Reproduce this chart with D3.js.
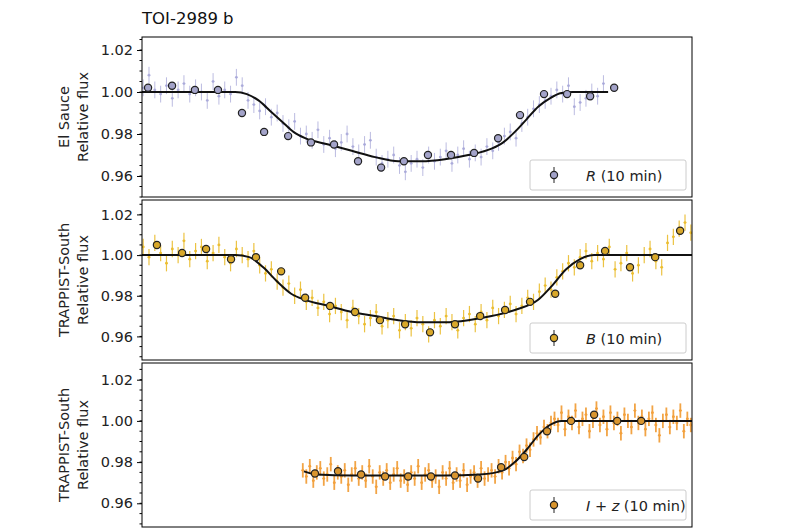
<!DOCTYPE html><html><head><meta charset="utf-8">
<script src="https://cdn.jsdelivr.net/npm/d3@7"></script>
<style>body{margin:0;background:#fff}text{font-family:"DejaVu Sans",sans-serif}</style></head><body>
<svg id="c" width="800" height="530"></svg>
<script>
const p1Raw=[1.002,1.008,1.001,0.999,1.003,0.997,1.001,1.004,0.999,1.002,1.000,0.996,1.005,0.998,1.001,0.999,1.007,
1.003,0.996,0.994,0.991,0.993,0.988,0.990,0.985,0.983,0.986,0.979,0.980,
0.977,0.982,0.975,0.978,0.973,0.976,0.980,0.974,0.971,0.975,0.977,0.969,0.966,0.968,0.970,0.965,
0.962,0.966,0.968,0.964,0.970,0.967,0.969,0.972,0.966,0.970,0.973,0.968,0.971,0.969,0.974,0.972,
0.976,0.979,0.981,0.978,0.985,0.988,0.992,0.994,0.996,0.998,1.001,0.999,1.003,0.993,0.995,0.997,1.000,0.998,1.004];
const p1BinT=[2.6,12.9,22.7,32.6,42.9,52.4,62.7,72.5,82.4,92.7,102.6,112.4,122.7,132.6,142.5,152.8,162.2,172.5,182.4,192.3,202.6];
const p1Bin=[1.002,1.003,1.001,1.001,0.990,0.981,0.979,0.976,0.975,0.967,0.964,0.967,0.970,0.970,0.971,0.978,0.989,0.999,0.999,0.998,1.002];
const p1ModT=[0,40,45,50,55,60,65,70,80,90,100,110,120,130,140,150,155,160,165,170,175,180,185,200];
const p1Mod=[1,1,0.999,0.996,0.991,0.986,0.981,0.978,0.975,0.972,0.969,0.967,0.967,0.968,0.970,0.973,0.976,0.981,0.987,0.993,0.997,0.9995,1,1];

const p2Raw=[1.004,0.999,1.006,1.001,0.996,1.003,1.000,1.007,0.998,1.002,1.004,0.997,1.001,1.005,0.999,0.996,1.003,1.000,0.998,
1.002,0.995,0.991,0.993,0.987,0.984,0.986,0.980,0.983,0.977,
0.979,0.974,0.977,0.971,0.975,0.972,0.968,0.974,0.970,0.966,0.969,0.972,0.965,0.968,0.970,0.963,
0.967,0.964,0.969,0.966,0.961,0.968,0.965,0.970,0.967,0.963,0.969,0.971,0.966,0.972,0.968,0.974,0.970,0.973,0.976,0.971,
0.975,0.979,0.977,0.982,0.985,0.983,0.989,0.992,0.996,0.994,0.999,1.002,0.997,1.001,
0.998,1.004,0.993,0.996,1.001,0.991,0.995,1.000,1.003,0.997,0.994,1.006,1.009,1.013,1.016,1.011];
const p2BinT=[6.4,17.2,27.5,38.2,48.9,59.7,70.0,80.7,91.4,102.1,112.9,123.6,134.3,145.1,155.8,166.5,177.3,188.0,198.7,209.4,220.2,230.9];
const p2Bin=[1.005,1.001,1.003,0.998,0.999,0.992,0.979,0.975,0.972,0.968,0.966,0.962,0.966,0.970,0.973,0.977,0.981,0.995,1.002,0.994,0.999,1.012];
const p2ModT=[0,40,46,52,58,64,70,80,90,100,110,120,130,140,150,160,170,176,182,188,194,236];
const p2Mod=[1,1,0.999,0.994,0.987,0.981,0.978,0.975,0.972,0.970,0.968,0.967,0.967,0.968,0.970,0.973,0.978,0.985,0.993,0.998,1,1];

const p3Raw=[0.976,0.973,0.978,0.971,0.975,0.977,0.972,0.974,0.979,0.970,0.975,0.973,0.976,0.969,0.974,0.977,0.972,0.975,0.971,0.978,0.973,0.968,0.975,0.972,0.976,0.970,0.974,0.977,0.971,0.973,0.969,0.975,0.972,0.978,0.970,0.974,0.976,0.971,0.973,0.968,0.975,0.972,0.977,0.970,0.974,0.971,0.976,0.969,0.973,0.975,0.971,0.977,0.972,0.974,0.976,
0.973,0.978,0.975,0.980,0.977,0.982,0.979,0.985,0.983,0.988,0.986,0.991,0.994,0.992,0.997,0.995,0.999,
1.001,0.998,1.004,0.996,1.002,0.999,1.005,0.997,1.001,1.003,0.995,1.000,1.006,0.998,1.002,0.996,1.004,0.999,1.001,0.994,1.003,1.000,0.997,1.005,0.999,1.002,0.996,1.001,1.004,0.998,0.993,1.000,1.003,0.997,1.002,0.999,1.005,0.995,1.001,0.998];
const p3BinT=[74.2,84.1,94.0,104.3,114.2,124.0,134.3,144.2,154.1,164.0,173.8,184.1,194.0,203.9,214.2];
const p3Bin=[0.9745,0.9756,0.974,0.973,0.973,0.973,0.9735,0.972,0.9775,0.9825,0.995,1.000,1.003,1.000,1.000];
const p3ModT=[69.5,75,90,110,130,145,155,160,165,170,175,180,236];
const p3Mod=[0.9755,0.974,0.9735,0.9735,0.9735,0.974,0.976,0.980,0.986,0.993,0.998,1.0,1.0];

const yTicks=[0.96,0.98,1.00,1.02];
const svg=d3.select("#c");
const x=d3.scaleLinear().domain([0,236]).range([142,692]);
const panels=[
 {top:37,bot:197,dom:[0.95,1.0262],raw:p1Raw,rawT:p1Raw.map((d,i)=>0.5+2.5*i),bin:p1Bin,binT:p1BinT,mod:p1Mod,modT:p1ModT,
  rc:"#a6a6d8",bc:"#a3a3c9",lab:["El Sauce","Relative flux"],leg:["R"," (10 min)"],err:0.004,sw:1,op:0.75},
 {top:200,bot:360,dom:[0.9484,1.0271],raw:p2Raw,rawT:p2Raw.map((d,i)=>0.5+2.5*i),bin:p2Bin,binT:p2BinT,mod:p2Mod,modT:p2ModT,
  rc:"#ebbd2e",bc:"#d9a82a",lab:["TRAPPIST-South","Relative flux"],leg:["B"," (10 min)"],err:0.004,sw:1.2,op:0.9},
 {top:363,bot:527,dom:[0.9485,1.0281],raw:p3Raw,rawT:p3Raw.map((d,i)=>69+1.5*i),bin:p3Bin,binT:p3BinT,mod:p3Mod,modT:p3ModT,
  rc:"#f2a03c",bc:"#d9952e",lab:["TRAPPIST-South","Relative flux"],leg:["I + z"," (10 min)"],err:0.0035,sw:1.8,op:0.95}
];
panels.forEach((p,k)=>{
 const y=d3.scaleLinear().domain(p.dom).range([p.bot,p.top]);
 const g=svg.append("g");
 const clipId="cl"+k;
 svg.append("clipPath").attr("id",clipId).append("rect").attr("x",142).attr("y",p.top).attr("width",550).attr("height",p.bot-p.top);
 const pg=g.append("g").attr("clip-path",`url(#${clipId})`);
 p.raw.forEach((v,i)=>{const t=p.rawT[i];
  pg.append("line").attr("x1",x(t)).attr("x2",x(t)).attr("y1",y(v-p.err)).attr("y2",y(v+p.err)).attr("stroke",p.rc).attr("stroke-width",p.sw).attr("opacity",p.op);
  pg.append("line").attr("x1",x(t)-1.3).attr("x2",x(t)+1.3).attr("y1",y(v)).attr("y2",y(v)).attr("stroke",p.rc).attr("stroke-width",1).attr("opacity",p.op);
  pg.append("circle").attr("cx",x(t)).attr("cy",y(v)).attr("r",1.4).attr("fill",p.rc).attr("opacity",p.op);});
 pg.append("path").datum(p.mod.map((v,i)=>[p.modT[i],v])).attr("d",d3.line().x(d=>x(d[0])).y(d=>y(d[1])).curve(d3.curveMonotoneX))
  .attr("fill","none").attr("stroke","#111").attr("stroke-width",2);
 p.bin.forEach((v,i)=>{const t=p.binT[i];
  pg.append("line").attr("x1",x(t)).attr("x2",x(t)).attr("y1",y(v-0.0015)).attr("y2",y(v+0.0015)).attr("stroke","#222");
  pg.append("circle").attr("cx",x(t)).attr("cy",y(v)).attr("r",3.6).attr("fill",p.bc).attr("stroke","#222").attr("stroke-width",1.2);});
 g.append("rect").attr("x",142).attr("y",p.top).attr("width",550).attr("height",p.bot-p.top).attr("fill","none").attr("stroke","#000").attr("stroke-width",1);
 const ax=d3.axisLeft(y).tickValues(yTicks).tickFormat(d3.format(".2f")).tickSize(5).tickPadding(4);
 const ag=g.append("g").attr("transform","translate(142,0)").call(ax);
 ag.select(".domain").remove();
 ag.selectAll("text").attr("font-size",14.5).attr("fill","#222").style("font-family","DejaVu Sans");
 const minor=d3.range(Math.ceil(p.dom[0]/0.005)*0.005,p.dom[1],0.005);
 g.selectAll(".mn").data(minor).enter().append("line").attr("x1",139.5).attr("x2",142).attr("y1",d=>y(d)).attr("y2",d=>y(d)).attr("stroke","#000");
 const cy=(p.top+p.bot)/2;
 const lab=g.append("text").attr("transform",`translate(71,${cy}) rotate(-90)`).attr("text-anchor","middle").attr("font-size",14.5).attr("fill","#222");
 lab.append("tspan").attr("x",0).attr("dy",-2).text(p.lab[0]);
 lab.append("tspan").attr("x",0).attr("dy",19).text(p.lab[1]);
 const lx=530,ly=p.bot-37;
 g.append("rect").attr("x",lx).attr("y",ly).attr("width",156).attr("height",30).attr("fill","#fff").attr("stroke","#ccc").attr("rx",2);
 g.append("line").attr("x1",lx+24).attr("x2",lx+24).attr("y1",ly+7).attr("y2",ly+23).attr("stroke","#222");
 g.append("circle").attr("cx",lx+24).attr("cy",ly+15).attr("r",3.6).attr("fill",p.bc).attr("stroke","#222").attr("stroke-width",1.2);
 const lt=g.append("text").attr("x",lx+56).attr("y",ly+20.5).attr("font-size",14.5).attr("fill","#222");
 lt.append("tspan").attr("font-style","italic").text(p.leg[0]);
 lt.append("tspan").text(p.leg[1]);
});
svg.append("text").attr("x",142).attr("y",24).attr("font-size",16.5).attr("fill","#111").text("TOI-2989 b");
</script></body></html>
